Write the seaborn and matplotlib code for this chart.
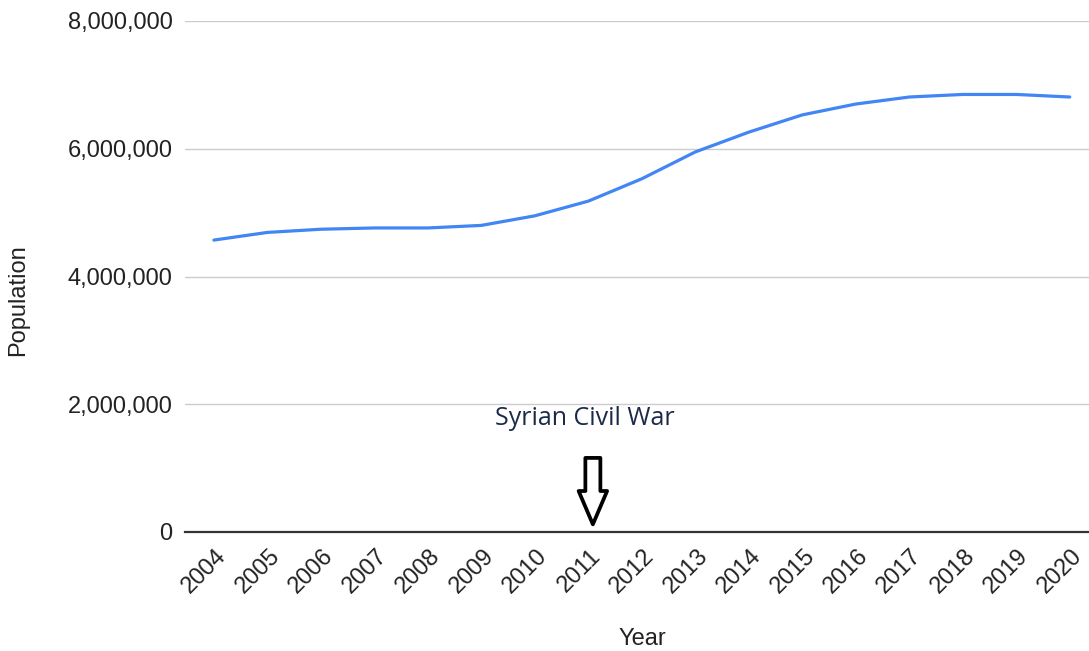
import matplotlib
matplotlib.use("Agg")
import matplotlib.pyplot as plt
import matplotlib.ticker as mticker
import matplotlib.transforms as mtransforms
import seaborn as sns
import pandas as pd

years = list(range(2004, 2021))
population = [4570000, 4690000, 4740000, 4760000, 4760000, 4800000, 4950000,
              5180000, 5530000, 5950000, 6260000, 6530000, 6700000, 6810000,
              6850000, 6850000, 6810000]
y_ticks = [0, 2000000, 4000000, 6000000, 8000000]
annotation_text = "Syrian Civil War"
annotation_year = 2011

df = pd.DataFrame({"Year": years, "Population": population})

sns.set_theme(style="white")
plt.rcParams["font.family"] = ["Liberation Sans", "DejaVu Sans"]

fig = plt.figure(figsize=(10.89, 6.51), dpi=100)
ax = fig.add_axes([185 / 1089, 119 / 651, 904 / 1089, 511 / 651])

sns.lineplot(data=df, x="Year", y="Population", ax=ax, color="#4285F4",
             linewidth=2.3)

ax.set_ylim(0, 8000000)
ax.set_xlim(2003.46, 2020.36)
ax.set_yticks(y_ticks)
ax.yaxis.set_major_formatter(mticker.FuncFormatter(lambda v, p: f"{int(v):,}"))
ax.set_xticks(years)

ax.grid(axis="y", color="#cccccc", linewidth=1)
ax.grid(axis="x", visible=False)
for s in ["top", "right", "left"]:
    ax.spines[s].set_visible(False)
ax.spines["bottom"].set_color("#333333")
ax.spines["bottom"].set_linewidth(1.6)
ax.spines["bottom"].set_zorder(3)

ax.tick_params(axis="y", length=0, pad=9, labelsize=17, labelcolor="#222222")
ax.tick_params(axis="x", length=0, pad=15, labelsize=17, labelcolor="#222222")

ax.set_xticklabels([str(y) for y in years], rotation=45, ha="right",
                   va="center", rotation_mode="anchor")
shift = mtransforms.ScaledTranslation(9 / 100, 0, fig.dpi_scale_trans)
for tick in ax.xaxis.get_major_ticks():
    tick.label1.set_transform(tick.label1.get_transform() + shift)

ax.set_xlabel("Year", fontsize=17, color="#222222")
ax.set_ylabel("Population", fontsize=17, color="#222222")
ax.xaxis.set_label_coords(0.5055, -0.188)
ax.yaxis.set_label_coords(-0.172, 0.454)

ax.text(annotation_year - 0.07, 1780000, annotation_text, ha="center",
        va="center", fontsize=18, color="#1c2a4a", family=["Open Sans", "DejaVu Sans"])

ax.annotate("", xy=(annotation_year + 0.085, 120000),
            xytext=(annotation_year + 0.085, 1160000),
            arrowprops=dict(facecolor="white", edgecolor="black", width=10.8,
                            headwidth=20.5, headlength=24, shrink=0,
                            linewidth=2.7))

fig.savefig("out.png", dpi=100)
